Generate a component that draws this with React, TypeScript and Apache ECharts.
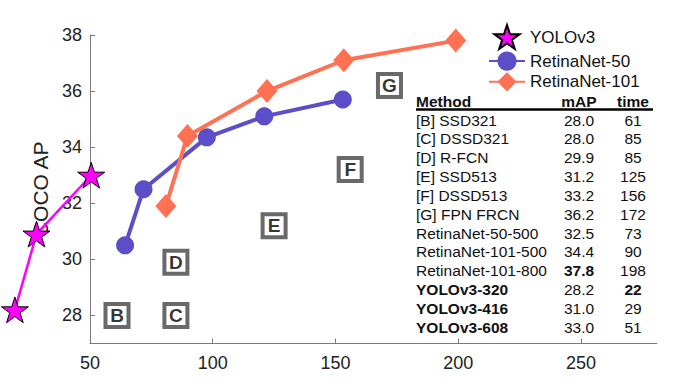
import React, { useEffect, useRef } from 'react';
import * as echarts from 'echarts';

// ---- data ----
const yoloTime = [19.4, 28.2, 50.5];
const yoloAP = [28.2, 30.9, 33.0];
const r50Time = [64.3, 71.8, 97.6, 121, 153];
const r50AP = [30.5, 32.5, 34.35, 35.1, 35.7];
const r101Time = [80.9, 89.7, 122.1, 153.4, 199];
const r101AP = [31.9, 34.4, 36.0, 37.1, 37.8];
const boxLabels = ['B', 'C', 'D', 'E', 'F', 'G'];
const boxTime = [61, 85, 85, 125, 156, 172];
const boxAP = [28.0, 28.0, 29.9, 31.2, 33.2, 36.2];
const xTicks = [50, 100, 150, 200, 250];
const yTicks = [28, 30, 32, 34, 36, 38];
const tableHeader = ['Method', 'mAP', 'time'];
const tableMethods = [
  '[B] SSD321', '[C] DSSD321', '[D] R-FCN', '[E] SSD513', '[F] DSSD513', '[G] FPN FRCN',
  'RetinaNet-50-500', 'RetinaNet-101-500', 'RetinaNet-101-800',
  'YOLOv3-320', 'YOLOv3-416', 'YOLOv3-608',
];
const tableMAP = ['28.0', '28.0', '29.9', '31.2', '33.2', '36.2', '32.5', '34.4', '37.8', '28.2', '31.0', '33.0'];
const tableTime = ['61', '85', '85', '125', '156', '172', '73', '90', '198', '22', '29', '51'];
const boldMethod = [false, false, false, false, false, false, false, false, false, true, true, true];
const boldMAP = [false, false, false, false, false, false, false, false, true, false, false, false];
const boldTime = [false, false, false, false, false, false, false, false, false, true, false, false];

const FONT = '"Liberation Sans", Arial, Helvetica, sans-serif';
const STAR = 'path://M0,-100L22.45,-30.9L95.1,-30.9L36.33,11.8L58.78,80.9L0,38.2L-58.78,80.9L-36.33,11.8L-95.1,-30.9L-22.45,-30.9Z';
const BLUE = '#5B4EC8';
const ORANGE = '#FF7152';
const MAGENTA = '#FF00FF';

function cell(text: string, x: number, y: number, align: string, bold: boolean) {
  return {
    type: 'text',
    silent: true,
    style: {
      text,
      x,
      y,
      fill: '#111',
      fontSize: 15.5,
      lineHeight: 15,
      fontFamily: FONT,
      fontWeight: bold ? 'bold' : 'normal',
      align,
      textAlign: align,
      verticalAlign: 'middle',
      textVerticalAlign: 'middle',
    },
  };
}

export default function App() {
  const ref = useRef<HTMLDivElement>(null);
  useEffect(() => {
    if (!ref.current) return;
    const chart = echarts.init(ref.current, null, { renderer: 'svg' });

    const tableEls: any[] = [];
    const colX = [416, 579, 633];
    tableEls.push(cell(tableHeader[0], colX[0], 101, 'left', true));
    tableEls.push(cell(tableHeader[1], colX[1], 101, 'center', true));
    tableEls.push(cell(tableHeader[2], colX[2], 101, 'center', true));
    tableEls.push({
      type: 'line',
      silent: true,
      shape: { x1: 416, y1: 109.5, x2: 653, y2: 109.5 },
      style: { stroke: '#000', lineWidth: 2.5 },
    });
    tableMethods.forEach((m, i) => {
      const y = 120 + i * 18.85;
      tableEls.push(cell(m, colX[0], y, 'left', boldMethod[i]));
      tableEls.push(cell(tableMAP[i], colX[1], y, 'center', boldMAP[i]));
      tableEls.push(cell(tableTime[i], colX[2], y, 'center', boldTime[i]));
    });

    const yoloData = yoloTime.map((t, i) => [t, yoloAP[i]]);

    const option: any = {
      animation: false,
      backgroundColor: '#fff',
      textStyle: { fontFamily: FONT },
      grid: { left: 90, right: 24, top: 35, bottom: 39.5 },
      xAxis: {
        type: 'value',
        min: 50,
        max: 281,
        interval: 50,
        axisLine: { show: true, lineStyle: { color: '#7a7a7a', width: 1 } },
        axisTick: { show: true, inside: true, length: 5, lineStyle: { color: '#7a7a7a' }, customValues: xTicks },
        axisLabel: { fontSize: 18, color: '#222', margin: 10, fontFamily: FONT, customValues: xTicks },
        splitLine: { show: false },
      },
      yAxis: {
        type: 'value',
        min: 27,
        max: 38,
        name: 'COCO AP',
        nameLocation: 'middle',
        nameGap: 28,
        nameTextStyle: { fontSize: 21, color: '#222', fontFamily: FONT },
        axisLine: { show: true, lineStyle: { color: '#7a7a7a', width: 1 } },
        axisTick: { show: true, inside: true, length: 5, lineStyle: { color: '#7a7a7a' }, customValues: yTicks },
        axisLabel: { fontSize: 18, color: '#222', margin: 8, fontFamily: FONT, customValues: yTicks },
        splitLine: { show: false },
      },
      legend: {
        left: 483,
        top: 19,
        orient: 'vertical',
        itemWidth: 36,
        itemHeight: 24,
        itemGap: 1.5,
        textStyle: { fontSize: 17, lineHeight: 16, color: '#111', fontFamily: FONT },
        lineStyle: { width: 2 },
        data: [
          { name: 'YOLOv3', icon: STAR },
          'RetinaNet-50',
          'RetinaNet-101',
        ],
      },
      series: [
        {
          name: 'YOLOv3 line',
          type: 'custom',
          clip: false,
          silent: true,
          data: yoloData,
          renderItem: (params: any, api: any) => {
            const i = params.dataIndex;
            if (i === 0) return null;
            const p0 = api.coord([yoloTime[i - 1], yoloAP[i - 1]]);
            const p1 = api.coord([api.value(0), api.value(1)]);
            return {
              type: 'line',
              shape: { x1: p0[0], y1: p0[1], x2: p1[0], y2: p1[1] },
              style: { stroke: MAGENTA, lineWidth: 2.5 },
            };
          },
          z: 3,
        },
        {
          name: 'YOLOv3',
          type: 'line',
          clip: false,
          data: yoloData,
          symbol: STAR,
          symbolSize: 27,
          symbolKeepAspect: true,
          lineStyle: { color: MAGENTA, width: 0, opacity: 0 },
          itemStyle: { color: MAGENTA, borderColor: '#000', borderWidth: 1 },
          z: 4,
        },
        {
          name: 'RetinaNet-50',
          type: 'line',
          clip: false,
          data: r50Time.map((t, i) => [t, r50AP[i]]),
          symbol: 'circle',
          symbolSize: 18,
          lineStyle: { color: BLUE, width: 4 },
          itemStyle: { color: BLUE },
          z: 5,
        },
        {
          name: 'RetinaNet-101',
          type: 'line',
          clip: false,
          data: r101Time.map((t, i) => [t, r101AP[i]]),
          symbol: 'diamond',
          symbolSize: [21, 24],
          lineStyle: { color: ORANGE, width: 4 },
          itemStyle: { color: ORANGE },
          z: 6,
        },
        {
          name: 'Methods',
          type: 'scatter',
          clip: false,
          data: boxTime.map((t, i) => ({ value: [t, boxAP[i]], label: { formatter: boxLabels[i] } })),
          symbol: 'rect',
          symbolSize: 23,
          itemStyle: { color: '#fff', borderColor: '#444', borderWidth: 4 },
          label: {
            show: true,
            position: 'inside',
            fontSize: 19,
            fontWeight: 'bold',
            color: '#000',
            fontFamily: FONT,
          },
          z: 2,
        },
      ],
      graphic: tableEls,
    };
    chart.setOption(option);
    return () => chart.dispose();
  }, []);

  return (
    <div
      ref={ref}
      style={{ position: 'fixed', left: 0, top: 0, width: 681, height: 383, background: '#fff' }}
    />
  );
}
